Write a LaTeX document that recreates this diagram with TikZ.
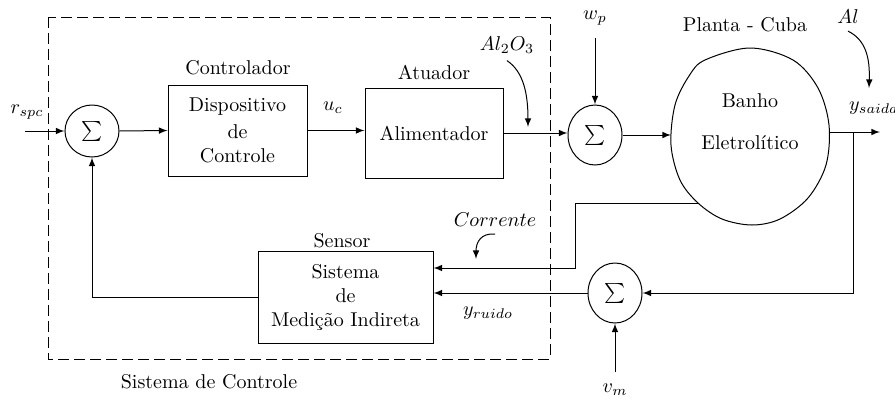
\documentclass[tikz,border=0pt]{standalone}
\usepackage{amsmath}
\usetikzlibrary{shapes.geometric}

\begin{document}
\begin{tikzpicture}[x=0.5pt, y=-0.5pt, >=latex, line width=0.5pt,
                    every node/.style={font=\normalsize},
                    sumnode/.style={draw, ellipse, inner sep=0pt,
                                    minimum width=27pt, minimum height=30pt},
                    blockbox/.style={draw, rectangle, align=center, inner sep=0pt}]

  \useasboundingbox (0,0) rectangle (895,397);

  %% sistema de controle (contorno tracejado)
  \draw[dash pattern=on 5.5pt off 2.5pt] (48,17) rectangle (550,359);
  \node (sistctrl) at (209,382) {Sistema de Controle};

  %% somadores
  \node[sumnode, minimum height=26pt] (soma1) at (92,131) {$\sum$};
  \node[sumnode] (soma2) at (595,135) {$\sum$};
  \node[sumnode] (soma3) at (615,293) {$\sum$};

  %% blocos
  \node[blockbox, minimum width=69.5pt, minimum height=45.5pt] (disp) at (237.5,130.5)
       {Dispositivo\\[1.5pt]de\\Controle};
  \node[blockbox, minimum width=69pt, minimum height=45pt] (alim) at (434,133) {Alimentador};
  \node[blockbox, minimum width=87.5pt, minimum height=46pt] (sensor) at (345.5,297)
       {Sistema\\de\\Medição Indireta};

  %% planta - cuba
  \draw plot[smooth cycle, tension=0.55] coordinates
       {(750,48) (793,60) (818,88) (829,125) (826,165) (808,198) (780,219)
        (752,225) (722,219) (698,203) (680,180) (671,145) (675,105) (689,76) (705,60)};
  \node[align=center] (banho) at (750,122) {Banho\\[9pt]Eletrolítico};
  \coordinate (banhoin)  at (671,135);
  \coordinate (banhoout) at (829,132);
  \coordinate (banhobot) at (698,203);

  %% rotulos
  \node (rspc)    at (27,112)  {$r_{spc}$};
  \node (ctrl)    at (238,68)  {Controlador};
  \node (uc)      at (333,108) {$u_c$};
  \node (atuador) at (434,72)  {Atuador};
  \node (al2o3)   at (507,45)  {$Al_2O_3$};
  \node (wp)      at (595,18)  {$w_p$};
  \node (planta)  at (745,25)  {Planta - Cuba};
  \node (al)      at (848,17)  {$Al$};
  \node[anchor=west] (ysaida) at (842,108) {$y_{saida}$};
  \node (corr)    at (495,220) {$Corrente$};
  \node (yruido)  at (488,313) {$y_{ruido}$};
  \node (sensorlbl) at (342,241) {Sensor};
  \node (vm)      at (615,390) {$v_m$};

  %% pontos livres
  \coordinate (rin)      at (25,131);
  \coordinate (wptop)    at (595,38);
  \coordinate (ysai)     at (880,132);
  \coordinate (ramo)     at (853,132);
  \coordinate (vmbot)    at (615,372);
  \coordinate (desvio)   at (575,203);
  \coordinate (al2o3tip) at (528,127);
  \coordinate (altip)    at (869,88);
  \coordinate (corrtip)  at (476,259);

  %% caminho direto
  \draw[->] (rin) -- (soma1.west);
  \draw[->] (soma1.east) -- (disp.west);
  \draw[->] (disp.east) -- (disp.east -| alim.west);
  \draw[->] (alim.east) -- (alim.east -| soma2.west);
  \draw[->] (wptop) -- (soma2.north);
  \draw[->] (soma2.east) -- (banhoin);
  \draw[->] (banhoout) -- (ysai);

  %% realimentacao
  \draw[->] (ramo) |- (soma3.east);
  \draw[->] (vmbot) -- (soma3.south);
  \draw[->] (soma3.west) -- (soma3.west -| sensor.east);
  \draw[->] (banhobot) -- (desvio) |- ([yshift=14.5pt]sensor.east);
  \draw[->] (sensor.west) -| (soma1.south);

  %% setas curvas
  \draw[->] (al2o3.south) .. controls (524,72) and (528,95) .. (al2o3tip);
  \draw[->] (al.south) .. controls (866,40) and (870,58) .. (altip);
  \draw[->] (corr.south) .. controls (481,233) and (476,242) .. (corrtip);

\end{tikzpicture}
\end{document}
